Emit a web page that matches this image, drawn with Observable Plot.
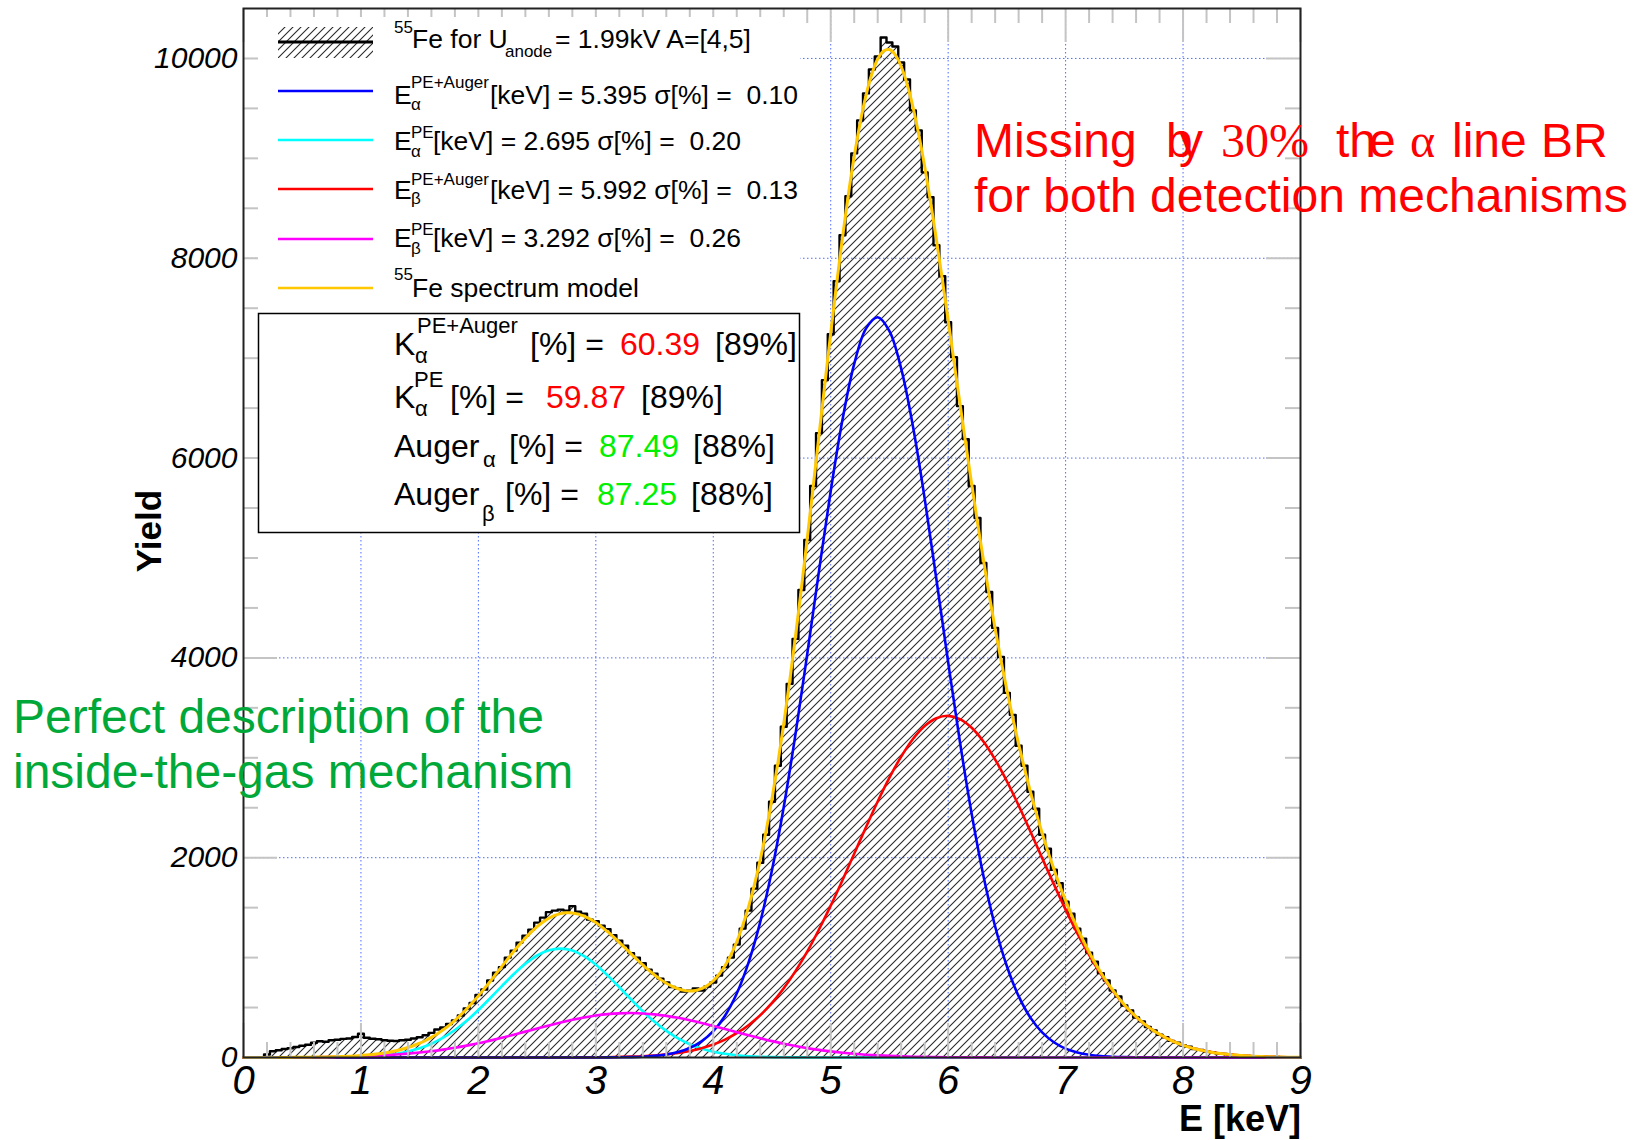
<!DOCTYPE html>
<html>
<head>
<meta charset="utf-8">
<script src="https://cdn.jsdelivr.net/npm/d3@7"></script>
<script src="https://cdn.jsdelivr.net/npm/@observablehq/plot@0.6"></script>
<style>
  html, body { margin: 0; padding: 0; background: #fff; }
  text { white-space: pre; }
</style>
</head>
<body>
<div id="chart"></div>
<script>
// ---------------- DATA ----------------
// histogram of 55Fe yield, bins every 0.05 keV starting at 0 keV
const histBinKeV = 0.05;
const histCounts = [
  0,0,0,0,30,62,72,85,93,105,118,128,148,162,158,172,178,186,190,205,
  238,198,188,182,172,168,165,172,178,190,202,222,246,280,300,335,372,420,490,545,
  625,680,770,850,905,1000,1070,1150,1220,1280,1350,1400,1455,1470,1480,1470,1515,1460,1440,1380,
  1365,1320,1285,1225,1170,1120,1045,1000,945,880,840,790,750,705,690,660,668,690,670,710,
  750,820,905,1000,1130,1290,1470,1690,1950,2230,2560,2920,3310,3740,4190,4680,5180,5720,6250,6780,
  7240,7770,8230,8620,9050,9380,9650,9890,10020,10210,10160,10120,9960,9790,9480,9280,8860,8610,8130,7820,
  7360,7010,6520,6190,5720,5400,4950,4660,4300,4010,3650,3430,3120,2920,2660,2490,2230,2090,1880,1745,
  1560,1440,1290,1190,1050,960,845,770,670,610,520,470,400,362,305,272,228,203,166,148,
  120,107,85,76,60,52,40,36,27,24,18,15,12,10,7,6,5,4,3,2,
  2
];
// 55Fe spectrum model (yellow), same 0.05 keV grid
const spectrumModel = [
  0,0,0,0,0,1,1,1,1,2,2,3,4,5,6,7,9,11,13,16,
  20,25,30,37,46,56,68,82,100,120,143,170,201,237,277,322,372,427,486,550,
  617,688,761,837,912,987,1061,1131,1197,1257,1311,1357,1394,1422,1440,1448,1447,1435,1415,1386,
  1351,1308,1259,1207,1153,1096,1038,982,927,874,826,782,744,712,688,672,666,671,689,720,
  768,833,918,1026,1158,1318,1507,1728,1981,2269,2590,2949,3340,3764,4217,4695,5193,5706,6225,6743,
  7252,7743,8206,8635,9020,9352,9629,9844,9995,10075,10089,10036,9919,9744,9514,9236,8918,8565,8185,7788,
  7379,6964,6550,6140,5741,5354,4982,4628,4292,3976,3678,3398,3136,2891,2662,2448,2249,2061,1887,1722,
  1570,1427,1294,1171,1056,949,850,759,676,599,529,465,408,356,309,268,232,199,170,145,
  124,104,88,74,62,51,42,35,29,24,19,16,13,10,8,7,5,4,3,3,
  2
];
// fit components, sampled every 0.1 keV from 0 keV
const componentStepKeV = 0.1;
const alphaPEAuger = [ // blue, E=5.395
  0,0,0,0,0,0,0,0,0,0,
  0,0,0,0,0,0,0,0,0,0,
  0,0,0,0,0,0,0,0,0,0,
  0,1,2,4,8,16,30,54,95,161,
  263,418,640,949,1357,1876,2507,3237,4039,4868,
  5671,6383,6942,7296,7410,7271,6895,6318,5594,4785,
  3956,3160,2439,1819,1311,913,614,399,251,153,
  89,51,28,15,8,4,2,1,0,0,
  0,0,0,0,0,0,0,0,0,0,
  0
];
const alphaPE = [ // cyan, E=2.695
  0,0,0,0,0,0,0,1,2,4,
  8,14,23,38,61,93,138,198,275,367,
  475,593,715,833,938,1021,1073,1090,1070,1014,
  929,822,703,581,463,357,266,192,133,90,
  58,37,22,13,7,4,2,1,1,0,
  0,0,0,0,0,0,0,0,0,0,
  0,0,0,0,0,0,0,0,0,0,
  0,0,0,0,0,0,0,0,0,0,
  0,0,0,0,0,0,0,0,0,0,
  0
];
const betaPEAuger = [ // red, E=5.992
  0,0,0,0,0,0,0,0,0,0,
  0,0,0,0,0,0,0,0,0,0,
  0,0,0,0,0,0,0,0,1,1,
  2,3,6,9,13,20,31,45,65,93,
  130,179,243,323,424,546,693,865,1060,1281,
  1520,1775,2040,2305,2563,2802,3012,3188,3318,3396,
  3420,3387,3300,3163,2982,2765,2522,2263,1997,1734,
  1480,1243,1028,835,668,525,406,309,231,170,
  124,88,62,42,29,19,13,8,5,3,
  2
];
const betaPE = [ // magenta, E=3.292
  0,0,1,1,1,2,3,4,6,9,
  12,17,22,30,39,50,63,79,97,119,
  142,169,197,227,259,290,321,350,377,401,
  420,434,442,445,441,432,417,397,373,346,
  316,285,253,222,193,164,138,115,94,76,
  61,48,37,28,21,16,12,8,6,4,
  3,2,1,1,0,0,0,0,0,0,
  0,0,0,0,0,0,0,0,0,0,
  0,0,0,0,0,0,0,0,0,0,
  0
];
const xTickValues = [0,1,2,3,4,5,6,7,8,9];
const yTickValues = [0,2000,4000,6000,8000,10000];
const xGridValues = [1,2,3,4,5,6,7,8];
const yGridValues = [2000,4000,6000,8000,10000];

// ---------------- build tables ----------------
const hist = histCounts.map((v, i) => ({E: i * histBinKeV, y: v}));
const model = spectrumModel.map((v, i) => ({E: i * histBinKeV, y: v}));
const comp = arr => arr.map((v, i) => ({E: i * componentStepKeV, y: v}));

const W = 1641, H = 1140;
const mL = 243, mR = 341, mT = 8, mB = 83;
const innerW = W - mL - mR, innerH = H - mT - mB;
const majorLen = 34, minorLen = 15;

const xMinor = d3.range(0, 45).map(k => k / 5).filter(v => !Number.isInteger(v));
const yMajorTicks = yTickValues;
const yMinorTicks = d3.range(1, 21).map(k => k * 500).filter(v => v % 2000 !== 0);

const tickStyle = {stroke: "#c4c4c4", strokeWidth: 2};
const font = "'Liberation Sans', Arial, Helvetica, sans-serif";

const plot = Plot.plot({
  width: W, height: H,
  marginLeft: mL, marginRight: mR, marginTop: mT, marginBottom: mB,
  x: {domain: [0, 9]},
  y: {domain: [0, 10500]},
  style: {fontFamily: font, background: "white", color: "black", overflow: "visible"},
  marks: [
    Plot.ruleX(xGridValues, {x: d => d, stroke: "#4d6bff", strokeWidth: 1, strokeDasharray: "1.5,2.5"}),
    Plot.ruleY(yGridValues, {y: d => d, stroke: "#4d6bff", strokeWidth: 1, strokeDasharray: "1.5,2.5"}),
    Plot.areaY(hist, {x: "E", y: "y", curve: "step", fill: "url(#hatch)"}),
    Plot.lineY(hist, {x: "E", y: "y", curve: "step", stroke: "#000", strokeWidth: 2.4}),
    Plot.lineY(comp(alphaPE), {x: "E", y: "y", curve: "catmull-rom", stroke: "#00ffff", strokeWidth: 2.6}),
    Plot.lineY(comp(betaPEAuger), {x: "E", y: "y", curve: "catmull-rom", stroke: "#ff0000", strokeWidth: 2.6}),
    Plot.lineY(comp(alphaPEAuger), {x: "E", y: "y", curve: "catmull-rom", stroke: "#0000ff", strokeWidth: 2.6}),
    Plot.lineY(comp(betaPE), {x: "E", y: "y", curve: "catmull-rom", stroke: "#ff00ff", strokeWidth: 2.6}),
    Plot.lineY(model, {x: "E", y: "y", curve: "catmull-rom", stroke: "#ffc800", strokeWidth: 3}),
    // inward tick marks on all four sides
    Plot.tickX(xTickValues, {x: d => d, insetTop: innerH - majorLen, ...tickStyle}),
    Plot.tickX(xTickValues, {x: d => d, insetBottom: innerH - majorLen, ...tickStyle}),
    Plot.tickX(xMinor, {x: d => d, insetTop: innerH - minorLen, ...tickStyle}),
    Plot.tickX(xMinor, {x: d => d, insetBottom: innerH - minorLen, ...tickStyle}),
    Plot.tickY(yMajorTicks, {y: d => d, insetRight: innerW - majorLen, ...tickStyle}),
    Plot.tickY(yMajorTicks, {y: d => d, insetLeft: innerW - majorLen, ...tickStyle}),
    Plot.tickY(yMinorTicks, {y: d => d, insetRight: innerW - minorLen, ...tickStyle}),
    Plot.tickY(yMinorTicks, {y: d => d, insetLeft: innerW - minorLen, ...tickStyle}),
    Plot.frame({stroke: "#222", strokeWidth: 2}),
    Plot.axisX({ticks: xTickValues, tickSize: 0, tickPadding: 8, fontSize: 40, fontStyle: "italic", label: null, tickFormat: d => String(d)}),
    Plot.axisY({ticks: yTickValues, tickSize: 0, tickPadding: 6, fontSize: 30, fontStyle: "italic", label: null, tickFormat: d => String(d)})
  ]
});
document.getElementById("chart").appendChild(plot);

// ---------------- decorations ----------------
const svg = d3.select(plot);
const defs = svg.insert("defs", ":first-child");
const pat = defs.append("pattern").attr("id", "hatch").attr("patternUnits", "userSpaceOnUse")
  .attr("width", 8).attr("height", 8);
pat.append("path").attr("d", "M-2,2 L2,-2 M0,8 L8,0 M6,10 L10,6")
  .attr("stroke", "#2a2a2a").attr("stroke-width", 1.1).attr("fill", "none");

const g = svg.append("g").attr("font-family", font).attr("text-anchor", "start");

function addText(pieces, attrs = {}) {
  const t = g.append("text").attr("text-anchor", "start");
  for (const [k, v] of Object.entries(attrs)) t.attr(k, v);
  for (const p of pieces) {
    const s = t.append("tspan").attr("x", p.x).attr("y", p.y).attr("font-size", p.size).text(p.t);
    if (p.fill) s.attr("fill", p.fill);
    if (p.family) s.attr("font-family", p.family);
  }
  return t;
}

// legend backgrounds
g.append("rect").attr("x", 258).attr("y", 17).attr("width", 542).attr("height", 296).attr("fill", "white");
g.append("rect").attr("x", 258.5).attr("y", 313.5).attr("width", 541).attr("height", 219)
  .attr("fill", "white").attr("stroke", "#000").attr("stroke-width", 1.5);

// legend symbols
g.append("rect").attr("x", 278).attr("y", 27).attr("width", 95).attr("height", 31).attr("fill", "url(#hatch)");
g.append("line").attr("x1", 278).attr("x2", 373).attr("y1", 42).attr("y2", 42).attr("stroke", "#000").attr("stroke-width", 3);
const symRows = [[91, "#0000ff"], [140, "#00ffff"], [189, "#ff0000"], [239, "#ff00ff"], [288, "#ffc800"]];
for (const [y, c] of symRows) {
  g.append("line").attr("x1", 278).attr("x2", 373).attr("y1", y).attr("y2", y).attr("stroke", c).attr("stroke-width", 2.6);
}

// legend texts
const LS = 26.5, SS = 17;
addText([{t: "55", x: 394, y: 33, size: SS}, {t: "Fe for U", x: 412, y: 48, size: LS},
         {t: "anode", x: 505, y: 57, size: SS}, {t: "= 1.99kV A=[4,5]", x: 555, y: 48, size: LS}]);
addText([{t: "E", x: 394, y: 104, size: LS}, {t: "α", x: 411, y: 110, size: SS}, {t: "PE+Auger", x: 411, y: 88, size: SS},
         {t: "[keV] = 5.395 σ[%] =  0.10", x: 490, y: 104, size: LS}]);
addText([{t: "E", x: 394, y: 150, size: LS}, {t: "α", x: 411, y: 157, size: SS}, {t: "PE", x: 411, y: 138, size: SS},
         {t: "[keV] = 2.695 σ[%] =  0.20", x: 433, y: 150, size: LS}]);
addText([{t: "E", x: 394, y: 199, size: LS}, {t: "β", x: 411, y: 204, size: SS}, {t: "PE+Auger", x: 411, y: 185, size: SS},
         {t: "[keV] = 5.992 σ[%] =  0.13", x: 490, y: 199, size: LS}]);
addText([{t: "E", x: 394, y: 247, size: LS}, {t: "β", x: 411, y: 254, size: SS}, {t: "PE", x: 411, y: 235, size: SS},
         {t: "[keV] = 3.292 σ[%] =  0.26", x: 433, y: 247, size: LS}]);
addText([{t: "55", x: 394, y: 280, size: SS}, {t: "Fe spectrum model", x: 412, y: 297, size: LS}]);

const BS = 32, BSS = 22, RED = "#ff0000", GRN = "#00f000";
addText([{t: "K", x: 394, y: 355, size: BS}, {t: "α", x: 415, y: 363, size: BSS}, {t: "PE+Auger", x: 417, y: 333, size: BSS},
         {t: "[%] =", x: 530, y: 355, size: BS}, {t: "60.39", x: 620, y: 355, size: BS, fill: RED},
         {t: "[89%]", x: 715, y: 355, size: BS}]);
addText([{t: "K", x: 394, y: 408, size: BS}, {t: "α", x: 415, y: 416, size: BSS}, {t: "PE", x: 414, y: 387, size: BSS},
         {t: "[%] =", x: 450, y: 408, size: BS}, {t: "59.87", x: 546, y: 408, size: BS, fill: RED},
         {t: "[89%]", x: 641, y: 408, size: BS}]);
addText([{t: "Auger", x: 394, y: 457, size: BS}, {t: "α", x: 483, y: 467, size: BSS},
         {t: "[%] =", x: 509, y: 457, size: BS}, {t: "87.49", x: 599, y: 457, size: BS, fill: GRN},
         {t: "[88%]", x: 693, y: 457, size: BS}]);
addText([{t: "Auger", x: 394, y: 505, size: BS}, {t: "β", x: 482, y: 521, size: BSS},
         {t: "[%] =", x: 505, y: 505, size: BS}, {t: "87.25", x: 597, y: 505, size: BS, fill: GRN},
         {t: "[88%]", x: 691, y: 505, size: BS}]);

// axis titles
g.append("text").attr("x", 1301).attr("y", 1131).attr("text-anchor", "end")
  .attr("font-size", 36).attr("font-weight", "bold").text("E [keV]");
g.append("text").attr("transform", "translate(161,531) rotate(-90)").attr("text-anchor", "middle")
  .attr("font-size", 35).attr("font-weight", "bold").text("Yield");

// annotations
const serif = "'Liberation Serif', 'DejaVu Serif', serif";
const AS = 48;
addText([{t: "Missing", x: 974, y: 157, size: AS}, {t: "b", x: 1166, y: 157, size: AS}, {t: "y", x: 1179, y: 157, size: AS},
         {t: "30%", x: 1221, y: 157, size: AS, family: serif}, {t: "th", x: 1336, y: 157, size: AS},
         {t: "e", x: 1369, y: 157, size: AS}, {t: "α", x: 1410, y: 157, size: AS, family: serif},
         {t: "line", x: 1452, y: 157, size: AS}, {t: "BR", x: 1541, y: 157, size: AS},
         {t: "for both detection mechanisms", x: 974, y: 212, size: AS}], {fill: RED});
addText([{t: "Perfect description of the", x: 13, y: 733, size: AS},
         {t: "inside-the-gas mechanism", x: 13, y: 788, size: AS}], {fill: "#00a83a"});
</script>
</body>
</html>
